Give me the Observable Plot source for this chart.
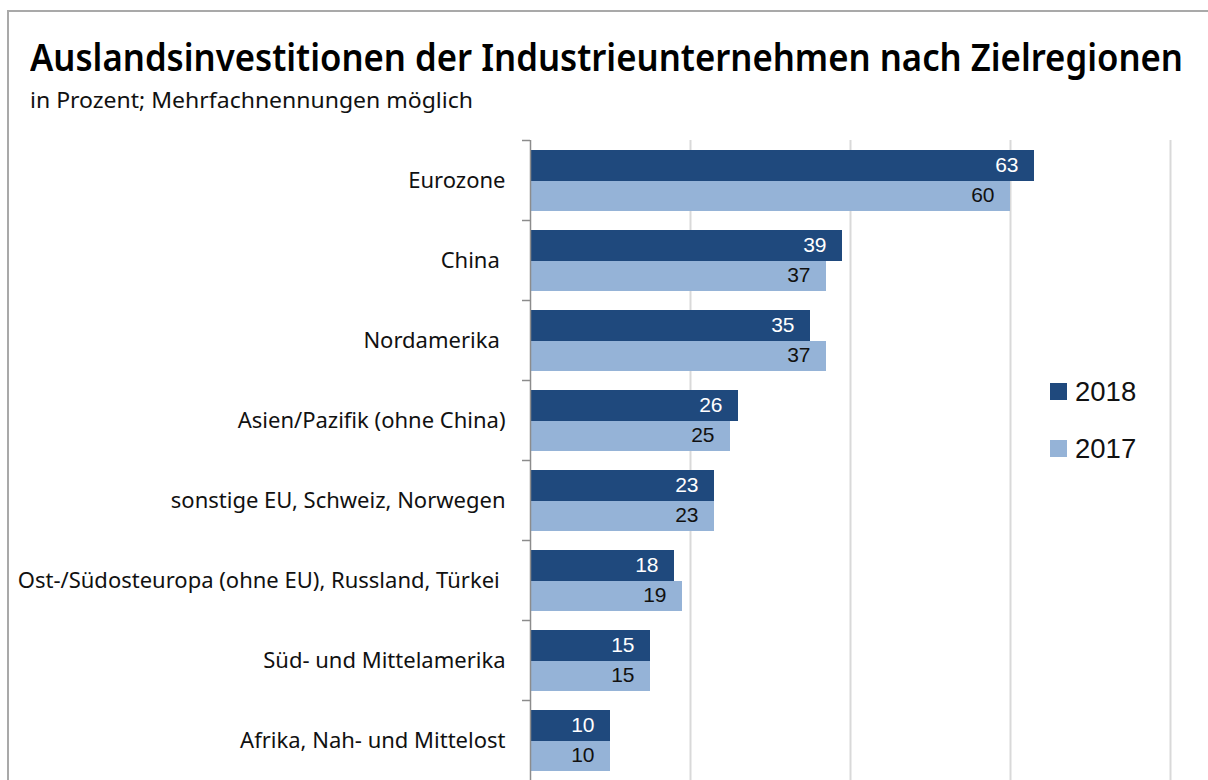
<!DOCTYPE html>
<html>
<head>
<meta charset="utf-8">
<script src="https://cdn.jsdelivr.net/npm/d3@7"></script>
<script src="https://cdn.jsdelivr.net/npm/@observablehq/plot@0.6"></script>
<style>
  html, body { margin: 0; padding: 0; width: 1208px; height: 780px; overflow: hidden; background: #fff; }
  #frame { position: absolute; left: 7px; top: 10px; width: 1400px; height: 1000px;
           border-left: 2px solid #a9a9a9; border-top: 2px solid #a9a9a9; }
  #title { position: absolute; left: 30px; top: 35px; margin: 0; white-space: nowrap;
           font-family: "Noto Sans", sans-serif; font-weight: 600; font-size: 37px; line-height: 44px;
           color: #000; transform-origin: 0 0; }
  #subtitle { position: absolute; left: 30px; top: 86px; margin: 0; white-space: nowrap;
           font-family: "Noto Sans", sans-serif; font-size: 21px; line-height: 28px; color: #111;
           transform-origin: 0 0; }
  #chart { position: absolute; left: 0; top: 140px; }
  #chart svg text { white-space: pre; }
  #legend { position: absolute; left: 1050px; top: 373px; font-family: "Liberation Sans", Arial, sans-serif;
            font-size: 27.5px; color: #111; }
  .item { display: flex; align-items: center; height: 37px; margin-bottom: 20px; }
  .sw { width: 17px; height: 17px; margin-right: 8px; }
</style>
</head>
<body>
<div id="frame"></div>
<h1 id="title">Auslandsinvestitionen der Industrieunternehmen nach Zielregionen</h1>
<div id="subtitle">in Prozent; Mehrfachnennungen möglich</div>
<div id="chart"></div>
<div id="legend"></div>
<script>
const regions = [
  "Eurozone",
  "China ",
  "Nordamerika ",
  "Asien/Pazifik (ohne China)",
  "sonstige EU, Schweiz, Norwegen",
  "Ost-/Südosteuropa (ohne EU), Russland, Türkei ",
  "Süd- und Mittelamerika",
  "Afrika, Nah- und Mittelost"
];
const years = ["2018", "2017"];
const values2018 = [63, 39, 35, 26, 23, 18, 15, 10];
const values2017 = [60, 37, 37, 25, 23, 19, 15, 10];
const xTicks = [20, 40, 60, 80];
const colors = ["#1f497d", "#95b3d7"];

const rows2018 = regions.map((r, i) => ({region: r, year: years[0], value: values2018[i]}));
const rows2017 = regions.map((r, i) => ({region: r, year: years[1], value: values2017[i]}));

const chart = Plot.plot({
  width: 1208,
  height: 670,
  marginLeft: 530,
  marginRight: 38,
  marginTop: 0,
  marginBottom: 30,
  style: {fontFamily: "'Noto Sans', sans-serif", background: "transparent", overflow: "visible"},
  x: {domain: [0, 80], axis: null},
  y: {domain: regions, padding: 0, label: null},
  color: {domain: years, range: colors},
  marks: [
    Plot.gridX(xTicks, {stroke: "#d9d9d9", strokeOpacity: 1, strokeWidth: 2}),
    Plot.barX(rows2018, {y: "region", x: "value", fill: "year", insetTop: 10, insetBottom: 39}),
    Plot.barX(rows2017, {y: "region", x: "value", fill: "year", insetTop: 41, insetBottom: 9}),
    Plot.ruleX([0], {stroke: "#8c8c8c", strokeWidth: 1.5}),
    Plot.axisY({tickSize: 8, tickFormat: () => "", dy: -40, stroke: "#8c8c8c", strokeWidth: 1.5, label: null}),
    Plot.axisY({tickSize: 0, tickPadding: 25, fontSize: 22, fill: "#111", label: null}),
    Plot.text(rows2018, {y: "region", x: "value", text: d => String(d.value), textAnchor: "end",
      dx: -16, dy: -15, fill: "white", fontSize: 21, fontFamily: "'Liberation Sans', Arial, sans-serif"}),
    Plot.text(rows2017, {y: "region", x: "value", text: d => String(d.value), textAnchor: "end",
      dx: -16, dy: 15, fill: "#111", fontSize: 21, fontFamily: "'Liberation Sans', Arial, sans-serif"})
  ]
});
document.getElementById("chart").appendChild(chart);

const legend = document.getElementById("legend");
years.forEach((y, i) => {
  const item = document.createElement("div");
  item.className = "item";
  const sw = document.createElement("span");
  sw.className = "sw";
  sw.style.background = colors[i];
  const t = document.createElement("span");
  t.textContent = y;
  item.appendChild(sw);
  item.appendChild(t);
  legend.appendChild(item);
});

function fit(id, target) {
  const el = document.getElementById(id);
  el.style.transform = "none";
  const w = el.getBoundingClientRect().width;
  if (w > 0) el.style.transform = `scaleX(${target / w})`;
}
fit("title", 1153);
fit("subtitle", 443);
</script>
</body>
</html>
